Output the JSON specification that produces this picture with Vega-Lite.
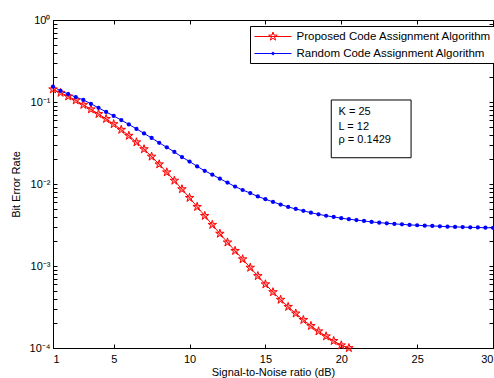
{
  "$schema": "https://vega.github.io/schema/vega-lite/v6.json",
  "width": 440,
  "height": 328,
  "autosize": {"type": "none"},
  "padding": {"left": 53, "top": 20, "right": 1, "bottom": 30},
  "background": "white",
  "config": {
    "view": {"stroke": "black", "strokeWidth": 1},
    "font": "Liberation Sans",
    "axis": {
      "domainColor": "black", "tickColor": "black", "labelColor": "black", "titleColor": "black",
      "labelFont": "Liberation Sans", "titleFont": "Liberation Sans",
      "labelFontSize": 11, "titleFontSize": 11, "titleFontWeight": "normal",
      "grid": false, "domainWidth": 1, "tickWidth": 1, "tickSize": -4
    },
    "legend": {
      "strokeColor": "black", "fillColor": "white", "padding": 4,
      "labelFont": "Liberation Sans", "labelFontSize": 11.5, "labelColor": "black", "labelLimit": 400,
      "symbolSize": 144, "labelOffset": 29.5, "rowPadding": 4, "symbolStrokeWidth": 1, "symbolOpacity": 1
    }
  },
  "datasets": {
    "ber": [
      {"series": "Proposed Code Assignment Algorithm", "snr": 1, "ber": 0.1429},
      {"series": "Proposed Code Assignment Algorithm", "snr": 1.5, "ber": 0.1297},
      {"series": "Proposed Code Assignment Algorithm", "snr": 2, "ber": 0.1172},
      {"series": "Proposed Code Assignment Algorithm", "snr": 2.5, "ber": 0.1047},
      {"series": "Proposed Code Assignment Algorithm", "snr": 3, "ber": 0.0925},
      {"series": "Proposed Code Assignment Algorithm", "snr": 3.5, "ber": 0.0815},
      {"series": "Proposed Code Assignment Algorithm", "snr": 4, "ber": 0.0715},
      {"series": "Proposed Code Assignment Algorithm", "snr": 4.5, "ber": 0.0622},
      {"series": "Proposed Code Assignment Algorithm", "snr": 5, "ber": 0.0538},
      {"series": "Proposed Code Assignment Algorithm", "snr": 5.5, "ber": 0.0459},
      {"series": "Proposed Code Assignment Algorithm", "snr": 6, "ber": 0.0388},
      {"series": "Proposed Code Assignment Algorithm", "snr": 6.5, "ber": 0.0323},
      {"series": "Proposed Code Assignment Algorithm", "snr": 7, "ber": 0.0266},
      {"series": "Proposed Code Assignment Algorithm", "snr": 7.5, "ber": 0.0216},
      {"series": "Proposed Code Assignment Algorithm", "snr": 8, "ber": 0.0174},
      {"series": "Proposed Code Assignment Algorithm", "snr": 8.5, "ber": 0.0139},
      {"series": "Proposed Code Assignment Algorithm", "snr": 9, "ber": 0.0110},
      {"series": "Proposed Code Assignment Algorithm", "snr": 9.5, "ber": 0.00865},
      {"series": "Proposed Code Assignment Algorithm", "snr": 10, "ber": 0.00678},
      {"series": "Proposed Code Assignment Algorithm", "snr": 10.5, "ber": 0.00527},
      {"series": "Proposed Code Assignment Algorithm", "snr": 11, "ber": 0.00409},
      {"series": "Proposed Code Assignment Algorithm", "snr": 11.5, "ber": 0.00318},
      {"series": "Proposed Code Assignment Algorithm", "snr": 12, "ber": 0.00248},
      {"series": "Proposed Code Assignment Algorithm", "snr": 12.5, "ber": 0.00194},
      {"series": "Proposed Code Assignment Algorithm", "snr": 13, "ber": 0.00153},
      {"series": "Proposed Code Assignment Algorithm", "snr": 13.5, "ber": 0.00121},
      {"series": "Proposed Code Assignment Algorithm", "snr": 14, "ber": 0.000955},
      {"series": "Proposed Code Assignment Algorithm", "snr": 14.5, "ber": 0.000755},
      {"series": "Proposed Code Assignment Algorithm", "snr": 15, "ber": 0.000599},
      {"series": "Proposed Code Assignment Algorithm", "snr": 15.5, "ber": 0.000480},
      {"series": "Proposed Code Assignment Algorithm", "snr": 16, "ber": 0.000388},
      {"series": "Proposed Code Assignment Algorithm", "snr": 16.5, "ber": 0.000318},
      {"series": "Proposed Code Assignment Algorithm", "snr": 17, "ber": 0.000264},
      {"series": "Proposed Code Assignment Algorithm", "snr": 17.5, "ber": 0.000220},
      {"series": "Proposed Code Assignment Algorithm", "snr": 18, "ber": 0.000186},
      {"series": "Proposed Code Assignment Algorithm", "snr": 18.5, "ber": 0.000160},
      {"series": "Proposed Code Assignment Algorithm", "snr": 19, "ber": 0.000139},
      {"series": "Proposed Code Assignment Algorithm", "snr": 19.5, "ber": 0.000122},
      {"series": "Proposed Code Assignment Algorithm", "snr": 20, "ber": 0.000108},
      {"series": "Proposed Code Assignment Algorithm", "snr": 20.5, "ber": 0.0001},
      {"series": "Random Code Assignment Algorithm", "snr": 1, "ber": 0.154},
      {"series": "Random Code Assignment Algorithm", "snr": 1.5, "ber": 0.137},
      {"series": "Random Code Assignment Algorithm", "snr": 2, "ber": 0.125},
      {"series": "Random Code Assignment Algorithm", "snr": 2.5, "ber": 0.115},
      {"series": "Random Code Assignment Algorithm", "snr": 3, "ber": 0.106},
      {"series": "Random Code Assignment Algorithm", "snr": 3.5, "ber": 0.0950},
      {"series": "Random Code Assignment Algorithm", "snr": 4, "ber": 0.0848},
      {"series": "Random Code Assignment Algorithm", "snr": 4.5, "ber": 0.0757},
      {"series": "Random Code Assignment Algorithm", "snr": 5, "ber": 0.0676},
      {"series": "Random Code Assignment Algorithm", "snr": 5.5, "ber": 0.0602},
      {"series": "Random Code Assignment Algorithm", "snr": 6, "ber": 0.0533},
      {"series": "Random Code Assignment Algorithm", "snr": 6.5, "ber": 0.0470},
      {"series": "Random Code Assignment Algorithm", "snr": 7, "ber": 0.0414},
      {"series": "Random Code Assignment Algorithm", "snr": 7.5, "ber": 0.0364},
      {"series": "Random Code Assignment Algorithm", "snr": 8, "ber": 0.0318},
      {"series": "Random Code Assignment Algorithm", "snr": 8.5, "ber": 0.0280},
      {"series": "Random Code Assignment Algorithm", "snr": 9, "ber": 0.0246},
      {"series": "Random Code Assignment Algorithm", "snr": 9.5, "ber": 0.0213},
      {"series": "Random Code Assignment Algorithm", "snr": 10, "ber": 0.0188},
      {"series": "Random Code Assignment Algorithm", "snr": 10.5, "ber": 0.0164},
      {"series": "Random Code Assignment Algorithm", "snr": 11, "ber": 0.0145},
      {"series": "Random Code Assignment Algorithm", "snr": 11.5, "ber": 0.0130},
      {"series": "Random Code Assignment Algorithm", "snr": 12, "ber": 0.0116},
      {"series": "Random Code Assignment Algorithm", "snr": 12.5, "ber": 0.0104},
      {"series": "Random Code Assignment Algorithm", "snr": 13, "ber": 0.00930},
      {"series": "Random Code Assignment Algorithm", "snr": 13.5, "ber": 0.00845},
      {"series": "Random Code Assignment Algorithm", "snr": 14, "ber": 0.00775},
      {"series": "Random Code Assignment Algorithm", "snr": 14.5, "ber": 0.00705},
      {"series": "Random Code Assignment Algorithm", "snr": 15, "ber": 0.00652},
      {"series": "Random Code Assignment Algorithm", "snr": 15.5, "ber": 0.00605},
      {"series": "Random Code Assignment Algorithm", "snr": 16, "ber": 0.00562},
      {"series": "Random Code Assignment Algorithm", "snr": 16.5, "ber": 0.00525},
      {"series": "Random Code Assignment Algorithm", "snr": 17, "ber": 0.00496},
      {"series": "Random Code Assignment Algorithm", "snr": 17.5, "ber": 0.00471},
      {"series": "Random Code Assignment Algorithm", "snr": 18, "ber": 0.00447},
      {"series": "Random Code Assignment Algorithm", "snr": 18.5, "ber": 0.00427},
      {"series": "Random Code Assignment Algorithm", "snr": 19, "ber": 0.00410},
      {"series": "Random Code Assignment Algorithm", "snr": 19.5, "ber": 0.00397},
      {"series": "Random Code Assignment Algorithm", "snr": 20, "ber": 0.00383},
      {"series": "Random Code Assignment Algorithm", "snr": 20.5, "ber": 0.00372},
      {"series": "Random Code Assignment Algorithm", "snr": 21, "ber": 0.00363},
      {"series": "Random Code Assignment Algorithm", "snr": 21.5, "ber": 0.00354},
      {"series": "Random Code Assignment Algorithm", "snr": 22, "ber": 0.00345},
      {"series": "Random Code Assignment Algorithm", "snr": 22.5, "ber": 0.00338},
      {"series": "Random Code Assignment Algorithm", "snr": 23, "ber": 0.00332},
      {"series": "Random Code Assignment Algorithm", "snr": 23.5, "ber": 0.00326},
      {"series": "Random Code Assignment Algorithm", "snr": 24, "ber": 0.00322},
      {"series": "Random Code Assignment Algorithm", "snr": 24.5, "ber": 0.00317},
      {"series": "Random Code Assignment Algorithm", "snr": 25, "ber": 0.00314},
      {"series": "Random Code Assignment Algorithm", "snr": 25.5, "ber": 0.00310},
      {"series": "Random Code Assignment Algorithm", "snr": 26, "ber": 0.00308},
      {"series": "Random Code Assignment Algorithm", "snr": 26.5, "ber": 0.00305},
      {"series": "Random Code Assignment Algorithm", "snr": 27, "ber": 0.00302},
      {"series": "Random Code Assignment Algorithm", "snr": 27.5, "ber": 0.00300},
      {"series": "Random Code Assignment Algorithm", "snr": 28, "ber": 0.00298},
      {"series": "Random Code Assignment Algorithm", "snr": 28.5, "ber": 0.00296},
      {"series": "Random Code Assignment Algorithm", "snr": 29, "ber": 0.00295},
      {"series": "Random Code Assignment Algorithm", "snr": 29.5, "ber": 0.00293},
      {"series": "Random Code Assignment Algorithm", "snr": 30, "ber": 0.00292}
    ],
    "box": [{"x1": 19.34, "x2": 24.6, "y1": 0.1058, "y2": 0.0209}],
    "notes": [
      {"label": "K = 25", "x": 19.82, "y": 0.0761},
      {"label": "L = 12", "x": 19.82, "y": 0.05},
      {"label": "ρ = 0.1429", "x": 19.82, "y": 0.0344}
    ]
  },
  "layer": [
    {
      "data": {"name": "ber"},
      "transform": [{"filter": "datum.series === 'Proposed Code Assignment Algorithm'"}],
      "mark": {"type": "line", "strokeWidth": 1, "color": "#ff0000"},
      "encoding": {
        "x": {
          "field": "snr", "type": "quantitative",
          "scale": {"domain": [1, 30], "nice": false, "zero": false},
          "axis": {"orient": "bottom", "values": [1, 5, 10, 15, 20, 25, 30], "labelPadding": 9, "title": "Signal-to-Noise ratio (dB)", "titlePadding": 2}
        },
        "y": {
          "field": "ber", "type": "quantitative",
          "scale": {"type": "log", "domain": [0.0001, 1], "nice": false},
          "axis": {
            "orient": "left",
            "values": [0.0001, 0.0002, 0.0003, 0.0004, 0.0005, 0.0006, 0.0007, 0.0008, 0.0009, 0.001, 0.002, 0.003, 0.004, 0.005, 0.006, 0.007, 0.008, 0.009, 0.01, 0.02, 0.03, 0.04, 0.05, 0.06, 0.07, 0.08, 0.09, 0.1, 0.2, 0.3, 0.4, 0.5, 0.6, 0.7, 0.8, 0.9, 1],
            "labelExpr": "datum.value === 1 ? '10⁰' : datum.value === 0.1 ? '10⁻¹' : datum.value === 0.01 ? '10⁻²' : datum.value === 0.001 ? '10⁻³' : datum.value === 0.0001 ? '10⁻⁴' : ''",
            "labelPadding": 7,
            "labelFontSize": 11,
            "title": "Bit Error Rate",
            "titlePadding": 8
          }
        }
      }
    },
    {
      "data": {"name": "ber"},
      "transform": [{"filter": "datum.series === 'Random Code Assignment Algorithm'"}],
      "mark": {"type": "line", "strokeWidth": 1, "color": "#0000ff"},
      "encoding": {
        "x": {"field": "snr", "type": "quantitative", "axis": null},
        "y": {"field": "ber", "type": "quantitative", "axis": null}
      }
    },
    {
      "data": {"name": "ber"},
      "transform": [{"filter": "datum.series === 'Proposed Code Assignment Algorithm'"}],
      "mark": {"type": "point", "shape": "M0,-1L0.2245,-0.309L0.9511,-0.309L0.3633,0.118L0.5878,0.809L0,0.382L-0.5878,0.809L-0.3633,0.118L-0.9511,-0.309L-0.2245,-0.309Z", "size": 80, "fill": "#ff0000", "fillOpacity": 0.35, "stroke": "#ff0000", "strokeWidth": 1, "opacity": 1},
      "encoding": {
        "x": {"field": "snr", "type": "quantitative", "axis": null},
        "y": {"field": "ber", "type": "quantitative", "axis": null}
      }
    },
    {
      "data": {"name": "ber"},
      "transform": [{"filter": "datum.series === 'Random Code Assignment Algorithm'"}],
      "mark": {"type": "point", "shape": "circle", "size": 18, "filled": true, "color": "#0000ff", "opacity": 1},
      "encoding": {
        "x": {"field": "snr", "type": "quantitative", "axis": null},
        "y": {"field": "ber", "type": "quantitative", "axis": null}
      }
    },
    {
      "data": {"name": "ber"},
      "mark": {"type": "point", "opacity": 0, "filled": false},
      "encoding": {
        "x": {"field": "snr", "type": "quantitative", "axis": {"orient": "top", "values": [5, 10, 15, 20, 25], "labels": false, "domain": false, "title": null}},
        "y": {"field": "ber", "type": "quantitative", "axis": {"orient": "right", "values": [0.0001, 0.0002, 0.0003, 0.0004, 0.0005, 0.0006, 0.0007, 0.0008, 0.0009, 0.001, 0.002, 0.003, 0.004, 0.005, 0.006, 0.007, 0.008, 0.009, 0.01, 0.02, 0.03, 0.04, 0.05, 0.06, 0.07, 0.08, 0.09, 0.1, 0.2, 0.3, 0.4, 0.5, 0.6, 0.7, 0.8, 0.9, 1], "labels": false, "domain": false, "title": null}},
        "color": {
          "field": "series", "type": "nominal",
          "scale": {"domain": ["Proposed Code Assignment Algorithm", "Random Code Assignment Algorithm"], "range": ["#ff0000", "#0000ff"]},
          "legend": {"title": null, "orient": "none", "legendX": 197, "legendY": 6}
        },
        "shape": {
          "field": "series", "type": "nominal",
          "scale": {"domain": ["Proposed Code Assignment Algorithm", "Random Code Assignment Algorithm"], "range": ["M-1,0H5.17M2.08,-0.75L2.248,-0.232L2.793,-0.232L2.352,0.0885L2.521,0.607L2.08,0.2865L1.639,0.607L1.808,0.0885L1.367,-0.232L1.912,-0.232Z", "M-1,0H5.17M1.86,0A0.22,0.22 0 1,0 2.3,0A0.22,0.22 0 1,0 1.86,0Z"]},
          "legend": {"title": null, "orient": "none", "legendX": 197, "legendY": 6}
        }
      }
    },
    {
      "data": {"name": "box"},
      "mark": {"type": "rect", "fill": "white", "stroke": "black", "strokeWidth": 1},
      "encoding": {
        "x": {"field": "x1", "type": "quantitative", "axis": null},
        "x2": {"field": "x2"},
        "y": {"field": "y1", "type": "quantitative", "axis": null},
        "y2": {"field": "y2"}
      }
    },
    {
      "data": {"name": "notes"},
      "mark": {"type": "text", "align": "left", "baseline": "middle", "fontSize": 11, "font": "Liberation Sans", "color": "black"},
      "encoding": {
        "x": {"field": "x", "type": "quantitative", "axis": null},
        "y": {"field": "y", "type": "quantitative", "axis": null},
        "text": {"field": "label"}
      }
    }
  ],
  "resolve": {"axis": {"x": "independent", "y": "independent"}}
}
